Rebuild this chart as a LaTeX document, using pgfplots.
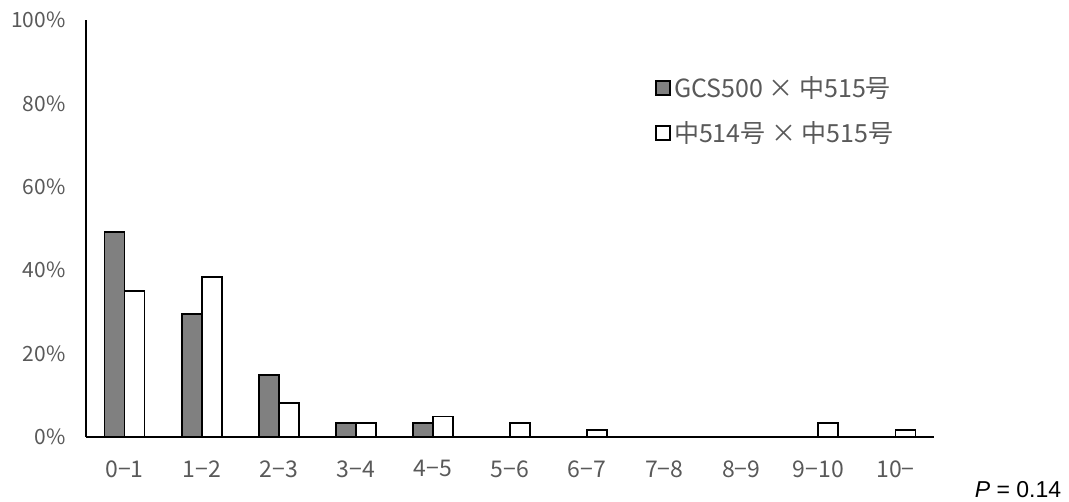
\documentclass[border=0pt]{standalone}
\usepackage{pgfplots}
\pgfplotsset{compat=1.18}
\usepackage{fontspec}
\setmainfont{Noto Sans CJK JP}
\newfontfamily\arialf{Liberation Sans}
\definecolor{txt}{HTML}{595959}
\definecolor{barg}{HTML}{808080}
\begin{document}
\begin{tikzpicture}
\useasboundingbox (-86bp,-65bp) rectangle (983bp,437bp);
\begin{axis}[
  anchor=south west, at={(0,0)},
  scale only axis, width=848bp, height=417bp,
  xmin=-0.5, xmax=10.5, ymin=0, ymax=100,
  axis lines*=left,
  axis line style={line width=1.8bp, black},
  major tick length=0pt,
  ytick={0,20,40,60,80,100},
  yticklabels={0\%,20\%,40\%,60\%,80\%,100\%},
  xtick={0,1,2,3,4,5,6,7,8,9,10},
  xticklabels={0−1,1−2,2−3,3−4,4−5,5−6,6−7,7−8,8−9,9−10,10−},
  yticklabel style={anchor=east, xshift=-17bp, font=\fontsize{21bp}{25bp}\selectfont, text=txt},
  xticklabel style={anchor=north, yshift=-20bp, font=\fontsize{23bp}{27bp}\selectfont, text=txt},
  ybar=0pt, bar width=20bp,
  every axis plot post/.append style={
    legend image code/.code={\draw[#1, line width=1.8bp] (0bp,-7bp) rectangle (14bp,7bp);
      \path[draw=none, fill=none] (0bp,0bp) -- (16bp,0bp);}
  },
  legend style={at={(rel axis cs:0.671,0.87)}, anchor=north west, draw=none, fill=none,
    font=\fontsize{25bp}{30bp}\selectfont, text=txt, row sep=19bp,
    inner sep=0pt},
  legend cell align=left,
]
\addplot[draw=black, line width=1.8bp, fill=barg] coordinates {
 (0,49.2) (1,29.5) (2,14.8) (3,3.3) (4,3.3)
};
\addplot[draw=black, line width=1.8bp, fill=white] coordinates {
 (0,35.0) (1,38.3) (2,8.2) (3,3.3) (4,4.9) (5,3.3) (6,1.6) (9,3.3) (10,1.6)
};
\legend{GCS500 × 中515号, 中514号 × 中515号}
\end{axis}
\node[font=\arialf\fontsize{23bp}{27bp}\selectfont, text=black] at (932bp,-53bp) {\textit{P} = 0.14};
\end{tikzpicture}
\end{document}
